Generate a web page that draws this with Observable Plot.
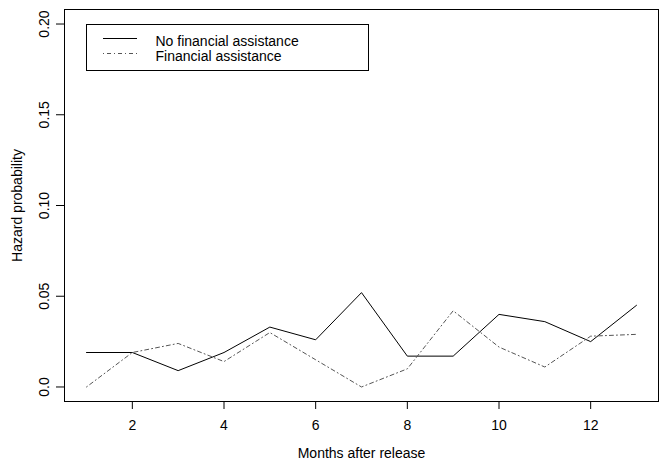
<!DOCTYPE html>
<html>
<head>
<meta charset="utf-8">
<script src="https://cdn.jsdelivr.net/npm/d3@7"></script>
<script src="https://cdn.jsdelivr.net/npm/@observablehq/plot@0.6"></script>
<style>
  html, body { margin: 0; padding: 0; background: white; }
  #chart { width: 662px; height: 467px; }
</style>
</head>
<body>
<div id="chart"></div>
<script>
const months = [1, 2, 3, 4, 5, 6, 7, 8, 9, 10, 11, 12, 13];
const noAssistance = [0.019, 0.019, 0.009, 0.019, 0.033, 0.026, 0.052, 0.017, 0.017, 0.040, 0.036, 0.025, 0.045];
const assistance   = [0.000, 0.019, 0.024, 0.014, 0.030, 0.015, 0.000, 0.010, 0.042, 0.022, 0.011, 0.028, 0.029];
const seriesNames = ["No financial assistance", "Financial assistance"];
const seriesDash = ["none", "1,3,4,3"];
const seriesColor = ["black", "#555555"];
const xTicks = [2, 4, 6, 8, 10, 12];
const yTicks = [0, 0.05, 0.10, 0.15, 0.20];
const yTickLabels = ["0.0", "0.05", "0.10", "0.15", "0.20"];
const xTitle = "Months after release";
const yTitle = "Hazard probability";

const rows = [];
months.forEach((m, i) => {
  rows.push({month: m, value: noAssistance[i], series: seriesNames[0]});
  rows.push({month: m, value: assistance[i], series: seriesNames[1]});
});

const FONT = "'Liberation Sans', Arial, Helvetica, sans-serif";

const plot = Plot.plot({
  width: 662,
  height: 467,
  marginLeft: 64,
  marginRight: 4,
  marginTop: 9,
  marginBottom: 66,
  style: {fontFamily: FONT, fontSize: "14px", color: "black", background: "white"},
  x: {domain: [0.52, 13.48]},
  y: {domain: [-0.008, 0.208]},
  marks: [
    Plot.frame({stroke: "black", strokeWidth: 1}),
    Plot.axisX({ticks: xTicks, tickSize: 8, tickPadding: 11, fontSize: 14, label: null, stroke: "black"}),
    Plot.axisY({ticks: yTicks, tickSize: 8, tickFormat: () => "", label: null, stroke: "black"}),
    Plot.text(yTicks, {y: d => d, text: (d, i) => yTickLabels[i], frameAnchor: "left", dx: -20, rotate: -90, textAnchor: "middle", lineAnchor: "middle", fontSize: 14, fill: "black"}),
    Plot.text([yTitle], {text: d => d, frameAnchor: "left", dx: -47, rotate: -90, textAnchor: "middle", lineAnchor: "middle", fontSize: 14, fill: "black"}),
    Plot.text([xTitle], {text: d => d, frameAnchor: "bottom", dy: 52, textAnchor: "middle", lineAnchor: "middle", fontSize: 14, fill: "black"}),
    Plot.lineY(rows.filter(d => d.series === seriesNames[0]), {x: "month", y: "value", stroke: seriesColor[0], strokeWidth: 1}),
    Plot.lineY(rows.filter(d => d.series === seriesNames[1]), {x: "month", y: "value", stroke: seriesColor[1], strokeWidth: 1, strokeDasharray: seriesDash[1]})
  ]
});

document.getElementById("chart").appendChild(plot);

// Legend (R-style box inside the plot)
const svg = d3.select(plot);
const lg = svg.append("g").attr("font-family", FONT).attr("font-size", 14).attr("text-anchor", "start");
lg.append("rect").attr("x", 86.5).attr("y", 24.5).attr("width", 282).attr("height", 46)
  .attr("fill", "white").attr("stroke", "black").attr("stroke-width", 1);
seriesNames.forEach((name, i) => {
  const y = 38.5 + i * 15;
  lg.append("line").attr("x1", 103).attr("x2", 137).attr("y1", y).attr("y2", y)
    .attr("stroke", seriesColor[i]).attr("stroke-width", 1)
    .attr("stroke-dasharray", seriesDash[i]);
  lg.append("text").attr("x", 155.5).attr("y", y + 7.2).attr("fill", "black")
    .attr("text-anchor", "start").text(name);
});
</script>
</body>
</html>
